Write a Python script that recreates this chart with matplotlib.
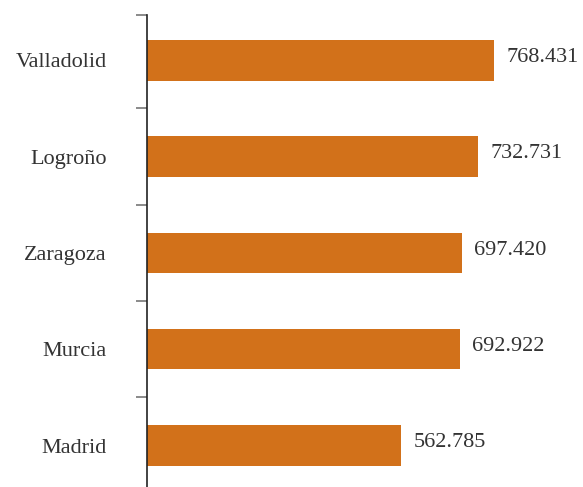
import matplotlib
matplotlib.use("Agg")
import matplotlib.pyplot as plt

cities = ["Valladolid", "Logroño", "Zaragoza", "Murcia", "Madrid"]
values = [768431, 732731, 697420, 692922, 562785]
value_labels = ["768.431", "732.731", "697.420", "692.922", "562.785"]

plt.rcParams["font.family"] = ["Liberation Serif", "DejaVu Serif"]

fig = plt.figure(figsize=(5.83, 4.87), dpi=100)
ax = fig.add_axes([147 / 583, 0, (583 - 147) / 583, 1 - 15 / 487])

pos = list(range(len(cities)))
ax.barh(pos, values, height=0.42, color="#D2711A")

for p, v, lab in zip(pos, values, value_labels):
    ax.text(v + 27000, p - 0.03, lab, va="center", ha="left", fontsize=16, color="#333333")

ax.set_xlim(0, 965000)
ax.set_ylim(4.43, -0.47)

ax.set_yticks(pos)
ax.set_yticklabels(cities, fontsize=16, color="#333333")
for t in ax.get_yticklabels():
    t.set_y(t.get_position()[1])
ax.tick_params(axis="y", which="major", length=0, pad=29)
ax.set_yticks([-0.47, 0.5, 1.5, 2.5, 3.5], minor=True)
ax.tick_params(axis="y", which="minor", length=8, width=1.2, color="#777777")

ax.set_xticks([])
for s in ["top", "right", "bottom"]:
    ax.spines[s].set_visible(False)
ax.spines["left"].set_color("#222222")
ax.spines["left"].set_linewidth(1.2)

fig.savefig("out.png", dpi=100)
